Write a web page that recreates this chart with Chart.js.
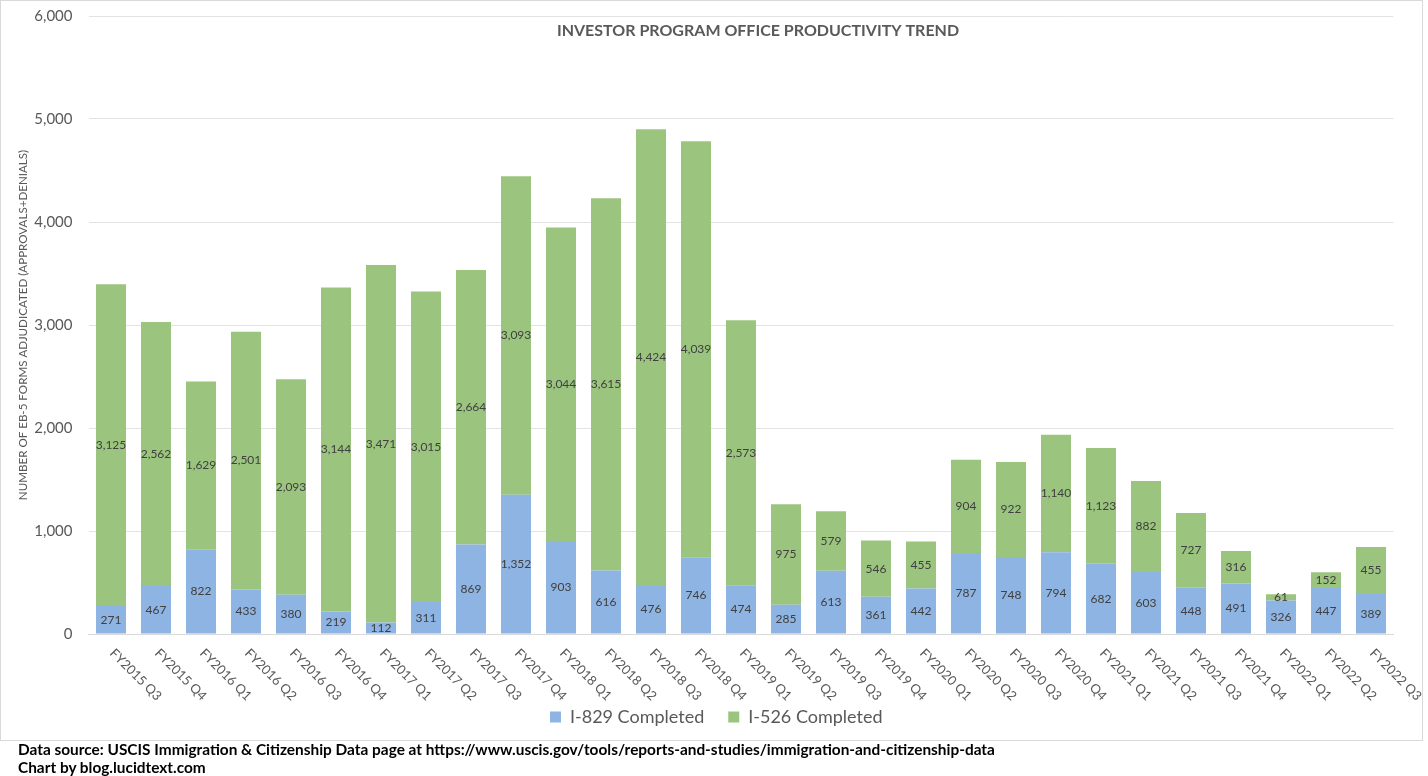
<!DOCTYPE html>
<html>
<head>
<meta charset="utf-8">
<script src="https://cdn.jsdelivr.net/npm/chart.js@4.4.1/dist/chart.umd.min.js"></script>
<style>
  html, body { margin: 0; padding: 0; background: #ffffff; }
  #wrap { position: absolute; left: 0; top: 0; width: 1423px; height: 741px; }
  #footer { position: absolute; left: 18px; top: 740px; font-family: Lato, "Liberation Sans", sans-serif; font-weight: bold; font-size: 15.4px; line-height: 18px; color: #000; white-space: nowrap; }
</style>
</head>
<body>
<div id="wrap"><canvas id="c" width="1423" height="741"></canvas></div>
<div id="footer">
  <div>Data source: USCIS Immigration &amp; Citizenship Data page at https://www.uscis.gov/tools/reports-and-studies/immigration-and-citizenship-data</div>
  <div>Chart by blog.lucidtext.com</div>
</div>
<script>
const categories = [
  "FY2015 Q3","FY2015 Q4",
  "FY2016 Q1","FY2016 Q2","FY2016 Q3","FY2016 Q4",
  "FY2017 Q1","FY2017 Q2","FY2017 Q3","FY2017 Q4",
  "FY2018 Q1","FY2018 Q2","FY2018 Q3","FY2018 Q4",
  "FY2019 Q1","FY2019 Q2","FY2019 Q3","FY2019 Q4",
  "FY2020 Q1","FY2020 Q2","FY2020 Q3","FY2020 Q4",
  "FY2021 Q1","FY2021 Q2","FY2021 Q3","FY2021 Q4",
  "FY2022 Q1","FY2022 Q2","FY2022 Q3"
];
const i829Completed = [271,467,822,433,380,219,112,311,869,1352,903,616,476,746,474,285,613,361,442,787,748,794,682,603,448,491,326,447,389];
const i526Completed = [3125,2562,1629,2501,2093,3144,3471,3015,2664,3093,3044,3615,4424,4039,2573,975,579,546,455,904,922,1140,1123,882,727,316,61,152,455];
const yTicks = [0,1000,2000,3000,4000,5000,6000];

const chartTitle = "INVESTOR PROGRAM OFFICE PRODUCTIVITY TREND";
const yTitle = "NUMBER OF EB-5 FORMS ADJUDICATED (APPROVALS+DENIALS)";

const FONT = "Lato, 'Liberation Sans', sans-serif";
const GRAY = "#595959";

const borderPlugin = {
  id: 'frame',
  beforeDraw(chart) {
    const ctx = chart.ctx;
    ctx.save();
    ctx.fillStyle = '#ffffff';
    ctx.fillRect(0, 0, chart.width, chart.height);
    ctx.strokeStyle = '#d9d9d9';
    ctx.lineWidth = 1;
    ctx.strokeRect(0.5, 0.5, chart.width - 1, chart.height - 1);
    ctx.restore();
  }
};

const legendShift = {
  id: 'legendShift',
  afterLayout(chart) {
    if (chart.legend) {
      chart.legend.left += 13.5;
      chart.legend.right += 13.5;
    }
  }
};

const valueLabels = {
  id: 'valueLabels',
  afterDatasetsDraw(chart) {
    const ctx = chart.ctx;
    ctx.save();
    ctx.font = "12px " + FONT;
    ctx.fillStyle = "#404040";
    ctx.textAlign = 'center';
    ctx.textBaseline = 'middle';
    chart.data.datasets.forEach((ds, di) => {
      const meta = chart.getDatasetMeta(di);
      meta.data.forEach((bar, i) => {
        const p = bar.getProps(['x', 'y', 'base'], true);
        const v = ds.data[i];
        ctx.fillText(v.toLocaleString('en-US'), p.x, (p.y + p.base) / 2);
      });
    });
    ctx.restore();
  }
};

const xLabels = {
  id: 'xLabels',
  afterDraw(chart) {
    const ctx = chart.ctx;
    const xs = chart.scales.x;
    ctx.save();
    ctx.font = "13px " + FONT;
    ctx.fillStyle = GRAY;
    ctx.textAlign = 'left';
    ctx.textBaseline = 'middle';
    categories.forEach((lab, i) => {
      const x = xs.getPixelForTick(i);
      ctx.save();
      ctx.translate(x + 1, chart.chartArea.bottom + 17);
      ctx.rotate(Math.PI / 4);
      ctx.fillText(lab, 0, 0);
      ctx.restore();
    });
    ctx.restore();
  }
};

const titlePlugin = {
  id: 'overTitle',
  afterDraw(chart) {
    const ctx = chart.ctx;
    ctx.save();
    ctx.font = "bold 16px " + FONT;
    ctx.fillStyle = GRAY;
    ctx.textAlign = 'center';
    ctx.textBaseline = 'middle';
    ctx.fillText(chartTitle, 758, 31);
    ctx.restore();
  }
};

new Chart(document.getElementById('c'), {
  type: 'bar',
  data: {
    labels: categories,
    datasets: [
      { label: 'I-829 Completed', data: i829Completed, backgroundColor: '#8db4e2', barPercentage: 0.667, categoryPercentage: 1.0 },
      { label: 'I-526 Completed', data: i526Completed, backgroundColor: '#9bc47f', barPercentage: 0.667, categoryPercentage: 1.0 }
    ]
  },
  plugins: [borderPlugin, legendShift, valueLabels, xLabels, titlePlugin],
  options: {
    responsive: false,
    animation: false,
    devicePixelRatio: 1,
    layout: { padding: { left: 12, right: 29.5, top: 16, bottom: 5 } },
    plugins: {
      title: { display: false },
      tooltip: { enabled: false },
      legend: {
        display: true,
        position: 'bottom',
        labels: {
          boxWidth: 11, boxHeight: 11, padding: 24,
          color: GRAY,
          font: { family: FONT, size: 18 }
        }
      }
    },
    scales: {
      x: {
        stacked: true,
        grid: { display: false, drawTicks: false },
        border: { display: true, color: '#d9d9d9' },
        ticks: { display: false },
        afterFit(scale) { scale.height = 50; scale.paddingLeft = 0; scale.paddingRight = 0; }
      },
      y: {
        stacked: true,
        min: 0, max: 6000,
        afterBuildTicks(scale) { scale.ticks = yTicks.map(v => ({ value: v })); },
        grid: { color: '#e3e3e3', drawTicks: false },
        border: { display: false },
        ticks: {
          padding: 16,
          color: GRAY,
          font: { family: FONT, size: 15 },
          callback: (v) => Number(v).toLocaleString('en-US')
        },
        title: {
          display: true,
          text: yTitle,
          color: GRAY,
          font: { family: FONT, size: 11.6 },
          padding: { top: 4, bottom: 0 }
        },
        afterFit(scale) { scale.width = 76.5; scale.paddingTop = 0; scale.paddingBottom = 0; }
      }
    }
  }
});
</script>
</body>
</html>
